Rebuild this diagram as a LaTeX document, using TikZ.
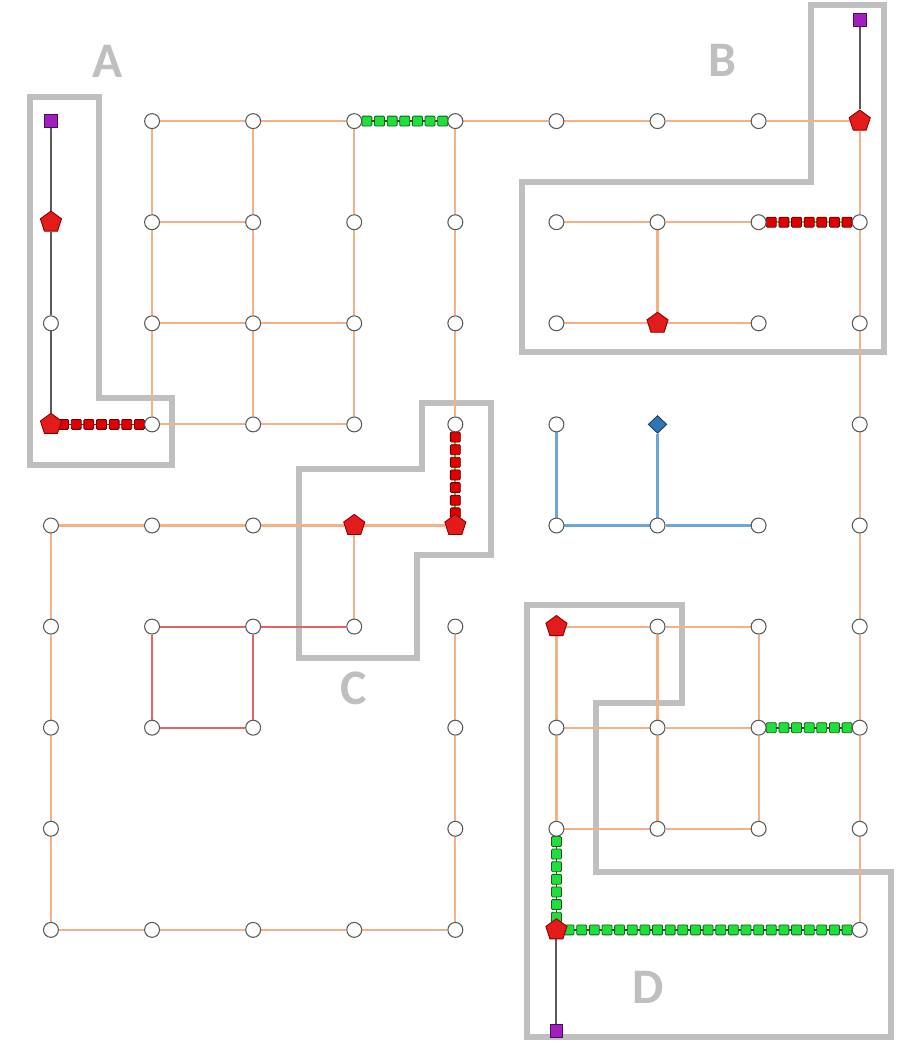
\documentclass[tikz,border=0pt]{standalone}
\usepackage{fontspec}
\usepackage{tikz}
\usetikzlibrary{calc,shapes.geometric}
\newfontfamily\zonefont{Carlito}
\definecolor{edgeorange}{HTML}{F4B183}
\definecolor{edgered}{HTML}{E36464}
\definecolor{edgeblue}{HTML}{6AA6DB}
\definecolor{edgedark}{HTML}{5A5A5A}
\definecolor{zonegray}{HTML}{BFBFBF}
\definecolor{vtxgray}{HTML}{5A5A5A}
\definecolor{pentred}{HTML}{E31B1B}
\definecolor{pentdark}{HTML}{8E0000}
\definecolor{termpurple}{HTML}{A020BE}
\definecolor{termdark}{HTML}{4A0E58}
\definecolor{gemblue}{HTML}{2E75B6}
\definecolor{gemdark}{HTML}{1C3F66}
\definecolor{sqgreen}{HTML}{1FE03A}
\definecolor{sqgreendark}{HTML}{1D5A1D}
\definecolor{sqred}{HTML}{E00000}
\definecolor{sqreddark}{HTML}{5E0000}
\definecolor{chaingreen}{HTML}{6DBE2E}
\pgfdeclarelayer{zones}
\pgfdeclarelayer{wires}
\pgfsetlayers{zones,wires,main}
\tikzset{
  vtx/.style      = {circle, draw=vtxgray, line width=0.6pt, fill=white,
                     minimum size=8.4pt, inner sep=0pt},
  pent/.style     = {regular polygon, regular polygon sides=5, draw=pentdark,
                     fill=pentred, line width=0.5pt, minimum size=12.5pt, inner sep=0pt},
  term/.style     = {rectangle, draw=termdark, fill=termpurple, line width=0.5pt,
                     minimum size=7.3pt, inner sep=0pt},
  gem/.style      = {diamond, draw=gemdark, fill=gemblue, line width=0.5pt,
                     minimum width=10.5pt, minimum height=10pt, inner sep=0pt},
  chainsq/.style  = {rectangle, line width=0.45pt, minimum size=5.6pt, inner sep=0pt,
                     rounded corners=0.6pt},
  wire/.style     = {line width=1.2pt, draw=edgeorange},
  redwire/.style  = {line width=1.2pt, draw=edgered},
  bluewire/.style = {line width=1.2pt, draw=edgeblue},
  darkwire/.style = {line width=1.1pt, draw=edgedark},
  zone/.style     = {line width=3.4pt, draw=zonegray},
  zonelabel/.style= {font=\zonefont\bfseries\fontsize{28}{28}\selectfont, text=zonegray},
}

\begin{document}
\begin{tikzpicture}[x=2cm,y=2cm]
  \useasboundingbox (-0.504,0.198) rectangle (8.612,-10.119);

  % vertices
  \foreach \i/\j in {1/1,2/1,3/1,4/1,5/1,6/1,7/1,
                     1/2,2/2,3/2,4/2,5/2,6/2,7/2,8/2,
                     0/3,1/3,2/3,3/3,4/3,5/3,7/3,8/3,
                     1/4,2/4,3/4,4/4,5/4,8/4,
                     0/5,1/5,2/5,5/5,6/5,7/5,8/5,
                     0/6,1/6,2/6,3/6,4/6,6/6,7/6,8/6,
                     0/7,1/7,2/7,4/7,5/7,6/7,7/7,8/7,
                     0/8,4/8,5/8,6/8,7/8,8/8,
                     0/9,1/9,2/9,3/9,4/9,8/9}
    \node[vtx] (n\i-\j) at (\i,-\j) {};
  \foreach \i/\j in {0/2,0/4,8/1,6/3,3/5,4/5,5/6,5/9}
    \node[pent] (n\i-\j) at (\i,-\j) {};
  \foreach \i/\j in {0/1,8/0,5/10}
    \node[term] (n\i-\j) at (\i,-\j) {};
  \node[gem] (n6-4) at (6,-4) {};

  \begin{pgfonlayer}{wires}
    % horizontal wires
    \foreach \a/\b in {1-1/2-1,2-1/3-1,4-1/5-1,5-1/6-1,6-1/7-1,7-1/8-1,
                       1-2/2-2,5-2/6-2,6-2/7-2,
                       1-3/2-3,2-3/3-3,5-3/6-3,6-3/7-3,
                       1-4/2-4,2-4/3-4,
                       0-5/1-5,1-5/2-5,2-5/3-5,3-5/4-5,
                       5-6/6-6,6-6/7-6,5-7/6-7,6-7/7-7,5-8/6-8,6-8/7-8,
                       0-9/1-9,1-9/2-9,2-9/3-9,3-9/4-9}
      \draw[wire] (n\a) -- (n\b);
    % vertical wires
    \foreach \a/\b in {1-1/1-2,1-2/1-3,1-3/1-4,2-1/2-2,2-2/2-3,2-3/2-4,
                       3-1/3-2,3-2/3-3,3-3/3-4,4-1/4-2,4-2/4-3,4-3/4-4,
                       8-1/8-2,8-2/8-3,8-3/8-4,8-4/8-5,8-5/8-6,8-6/8-7,8-7/8-8,8-8/8-9,
                       0-5/0-6,0-6/0-7,0-7/0-8,0-8/0-9,
                       4-6/4-7,4-7/4-8,4-8/4-9,
                       3-5/3-6,6-2/6-3,
                       5-6/5-7,5-7/5-8,6-6/6-7,6-7/6-8,7-6/7-7,7-7/7-8}
      \draw[wire] (n\a) -- (n\b);
    \foreach \a/\b in {1-6/2-6,2-6/3-6,1-6/1-7,2-6/2-7,1-7/2-7}
      \draw[redwire] (n\a) -- (n\b);
    \foreach \a/\b in {5-4/5-5,6-4/6-5,5-5/6-5,6-5/7-5}
      \draw[bluewire] (n\a) -- (n\b);
    \foreach \a/\b in {0-1/0-2,0-2/0-3,0-3/0-4,8-0/8-1,5-9/5-10}
      \draw[darkwire] (n\a) -- (n\b);

    % square chains
    \foreach \a/\b/\n/\fc/\dc/\lc in {0-4/1-4/7/sqred/sqreddark/sqred,
                                      7-2/8-2/7/sqred/sqreddark/chaingreen,
                                      4-4/4-5/7/sqred/sqreddark/chaingreen,
                                      3-1/4-1/7/sqgreen/sqgreendark/sqgreendark,
                                      7-7/8-7/7/sqgreen/sqgreendark/sqgreendark,
                                      5-8/5-9/7/sqgreen/sqgreendark/sqgreendark,
                                      5-9/8-9/23/sqgreen/sqgreendark/sqgreendark}
    {
      \draw[line width=1pt, draw=\lc] (n\a) -- (n\b);
      \foreach \k in {1,...,\n}
        \node[chainsq, fill=\fc, draw=\dc] at ($(n\a)!{\k/(\n+1)}!(n\b)$) {};
    }
  \end{pgfonlayer}

  % zones
  \begin{pgfonlayer}{zones}
    \draw[zone] (-0.21,-0.76) -- (0.48,-0.76) -- (0.48,-3.74) -- (1.2,-3.74)
                -- (1.2,-4.40) -- (-0.21,-4.40) -- cycle;
    \draw[zone] (7.52,0.15) -- (8.24,0.15) -- (8.24,-3.28) -- (4.66,-3.28)
                -- (4.66,-1.60) -- (7.52,-1.60) -- cycle;
    \draw[zone] (3.67,-3.79) -- (4.35,-3.79) -- (4.35,-5.29) -- (3.62,-5.29)
                -- (3.62,-6.31) -- (2.45,-6.31) -- (2.45,-4.44) -- (3.67,-4.44) -- cycle;
    \draw[zone] (4.71,-5.79) -- (6.24,-5.79) -- (6.24,-6.76) -- (5.39,-6.76)
                -- (5.39,-8.43) -- (8.31,-8.43) -- (8.31,-10.06) -- (4.71,-10.06) -- cycle;
  \end{pgfonlayer}
  \node[zonelabel] (labA) at (0.56,-0.41) {A};
  \node[zonelabel] (labB) at (6.64,-0.40) {B};
  \node[zonelabel] (labC) at (2.99,-6.61) {C};
  \node[zonelabel] (labD) at (5.91,-9.57) {D};
\end{tikzpicture}
\end{document}
